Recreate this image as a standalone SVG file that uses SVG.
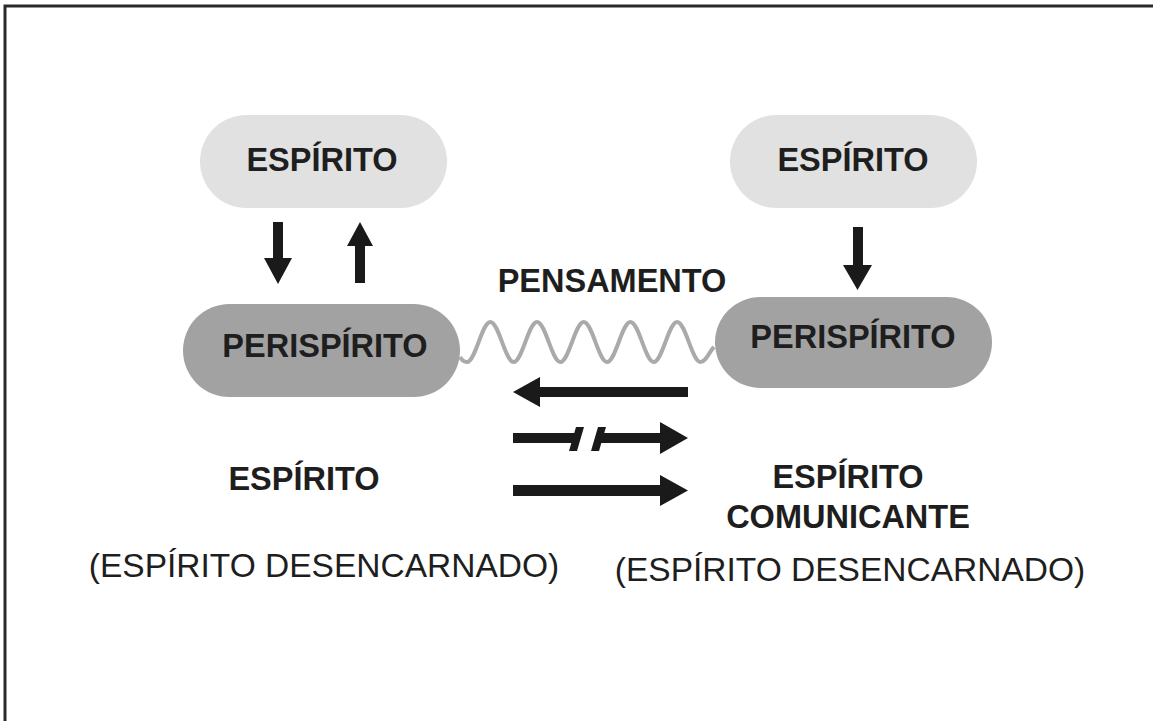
<svg xmlns="http://www.w3.org/2000/svg" width="1153" height="721" viewBox="0 0 1153 721">
<style>
.t{font-family:"Liberation Sans",Arial,sans-serif;font-size:32.5px;fill:#1e1e1e;text-anchor:middle}
.b{font-weight:bold}
.r{font-size:33.5px}
.light{fill:#e1e1e1}
.dark{fill:#a2a2a2}
.arr{fill:#1a1a1a}
.wave{fill:none;stroke:#aaaaaa;stroke-width:4}
</style>
<rect width="1153" height="721" fill="#ffffff"/>
<path d="M5,721 V6 H1153" fill="none" stroke="#2a2a2a" stroke-width="3"/>
<g id="connectors">
<path class="wave" d="M460,357 Q463,362 467,362 C475.4,362 481.9,322 490.3,322 C498.8,322 505.3,362 513.7,362 C522.1,362 528.6,322 537,322 C545.5,322 552,362 560.4,362 C568.8,362 575.3,322 583.7,322 C592.2,322 598.7,362 607.1,362 C615.5,362 622,322 630.4,322 C638.9,322 645.4,362 653.8,362 C662.2,362 668.7,322 677.1,322 C685.6,322 692.1,362 700.5,362 C706,362 709,352 714,347"/>
<polygon id="arr-l-down" class="arr" points="273,222 283,222 283,258 292,258 278,284 264,258 273,258"/>
<polygon id="arr-l-up" class="arr" points="360,222 373,246 365,246 365,283 355,283 355,246 347,246"/>
<polygon id="arr-r-down" class="arr" points="853,227 863,227 863,265 872,265 857.5,290 843,265 853,265"/>
<polygon id="arr-row1" class="arr" points="513,392 540,377 540,387 688,387 688,397 540,397 540,407"/>
<g id="arr-row2">
<polygon class="arr" points="513,433 578,433 578,443 513,443"/>
<polygon class="arr" points="576,427 584,427 577,451 569,451"/>
<polygon class="arr" points="598,427 606,427 599,451 591,451"/>
<polygon class="arr" points="600,433 660,433 660,422 688,438 660,454 660,443 598,443"/>
</g>
<polygon id="arr-row3" class="arr" points="513,485 660,485 660,475 688,490.5 660,506 660,496 513,496"/>
</g>
<g id="espirito-left"><rect class="light" x="200" y="115" width="247" height="93" rx="46.5"/><text class="t b" x="322" y="171">ESPÍRITO</text></g>
<g id="espirito-right"><rect class="light" x="730" y="115" width="247" height="93" rx="46.5"/><text class="t b" x="853" y="171">ESPÍRITO</text></g>
<g id="perispirito-left"><rect class="dark" x="183" y="304" width="277" height="93" rx="46.5"/><text class="t b" x="325" y="357">PERISPÍRITO</text></g>
<g id="perispirito-right"><rect class="dark" x="715" y="297" width="277" height="91" rx="45.5"/><text class="t b" x="853" y="348">PERISPÍRITO</text></g>
<g id="pensamento"><text class="t b" x="612" y="292">PENSAMENTO</text></g>
<g id="label-left">
<text class="t b" x="304" y="490">ESPÍRITO</text>
<text class="t r" x="324" y="577">(ESPÍRITO DESENCARNADO)</text>
</g>
<g id="label-right">
<text class="t b" x="848" y="488">ESPÍRITO</text>
<text class="t b" x="848" y="528">COMUNICANTE</text>
<text class="t r" x="850" y="581">(ESPÍRITO DESENCARNADO)</text>
</g>
</svg>
